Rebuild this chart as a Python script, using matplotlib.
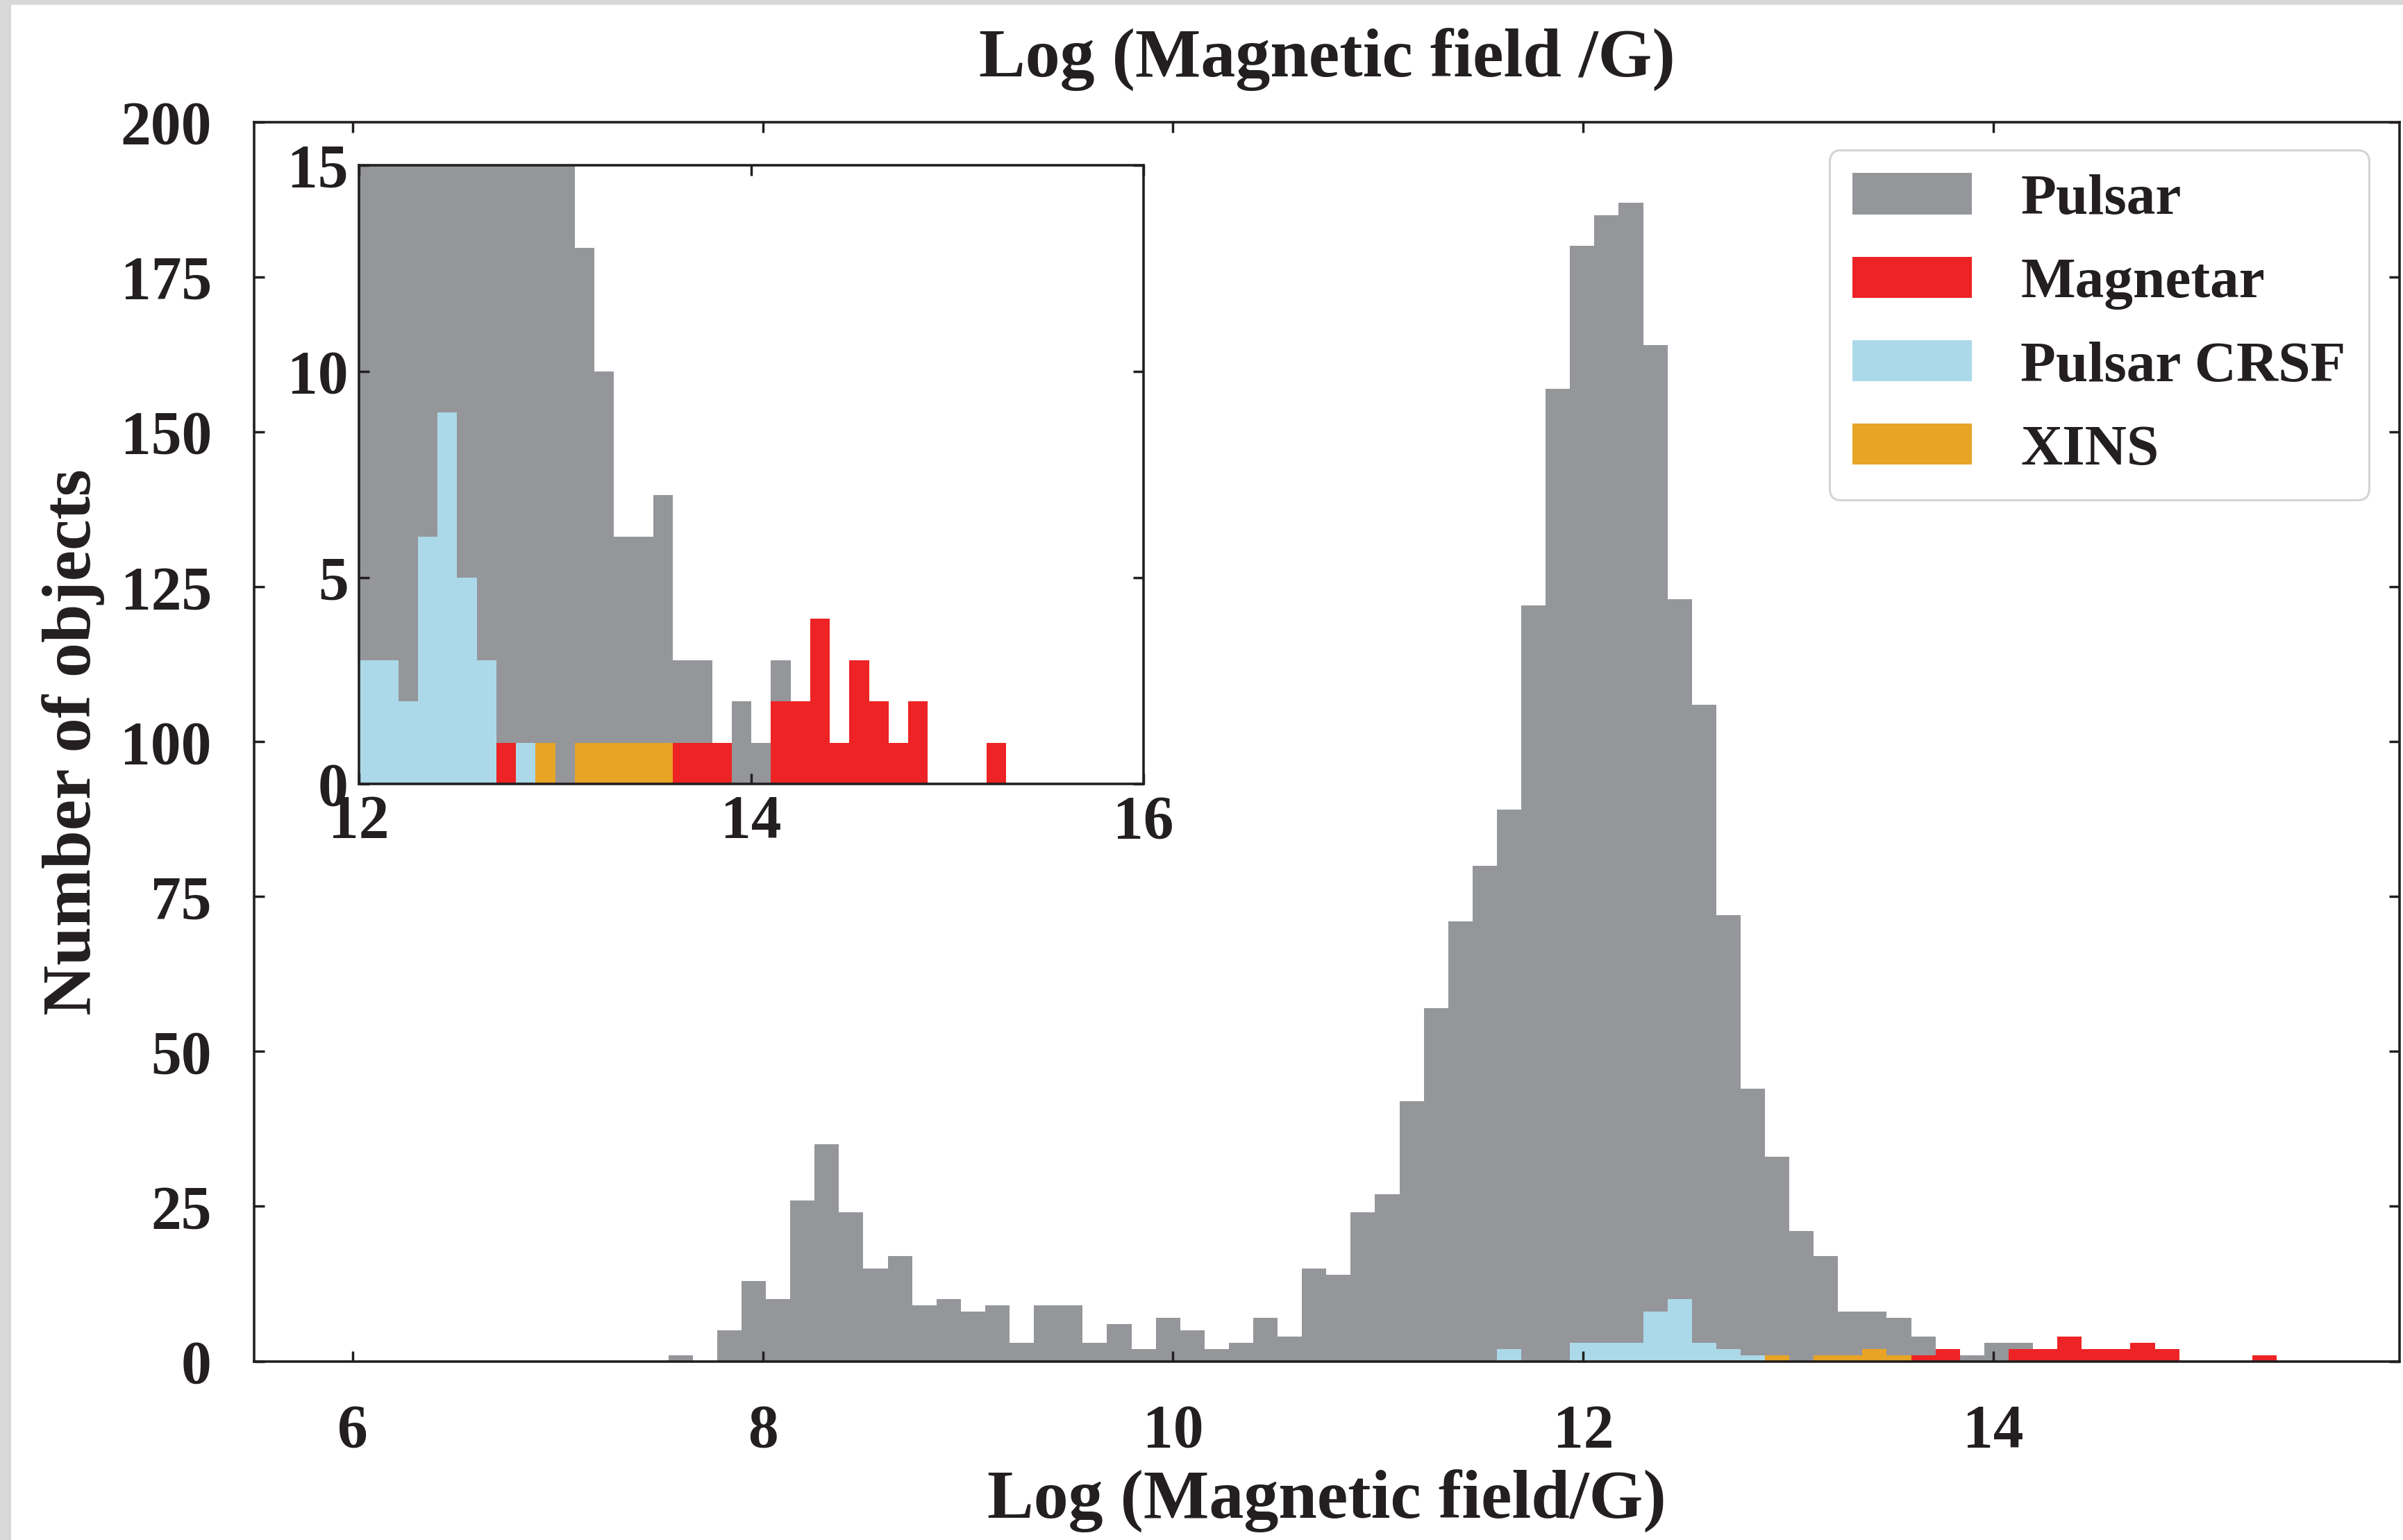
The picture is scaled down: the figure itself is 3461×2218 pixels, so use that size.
import numpy as np
import matplotlib
matplotlib.use("Agg")
import matplotlib.pyplot as plt
from matplotlib.patches import Rectangle

# ---------------- data (counts) ----------------
labels = ["Pulsar", "Magnetar", "Pulsar CRSF", "XINS"]

# main histogram: bins of width ~0.1188 starting at 7.54
main_bin_start = 7.54
main_bin_width = 0.1188
pulsar_main = [1, 0, 5, 13, 10, 26, 35, 24, 15, 17,
               9, 10, 8, 9, 3, 9, 9, 3, 6, 2,
               7, 5, 2, 3, 7, 4, 15, 14, 24, 27,
               42, 57, 71, 80, 89, 122, 157, 180, 185, 187,
               164, 123, 106, 72, 44, 33, 21, 17, 8, 8,
               7, 4, 2, 1, 3, 3, 0, 0, 0, 0,
               0, 0, 0, 0, 0, 0]
magnetar_main = [0] * 43 + [1, 0, 0, 0, 0, 0, 0, 0, 1, 2,
                            0, 0, 2, 2, 4, 2, 2, 3, 2, 0,
                            0, 0, 1]
crsf_main = [0] * 34 + [2, 0, 0, 3, 3, 3, 8, 10, 3, 2, 1] + [0] * 21
xins_main = [0] * 45 + [1, 0, 1, 1, 2, 1] + [0] * 15

# inset histogram: bins of width 0.1 starting at 12.0
inset_bin_start = 12.0
inset_bin_width = 0.1
pulsar_inset = [155, 157, 155, 138, 105, 90, 70, 45, 35, 27,
                18, 13, 10, 6, 6, 7, 3, 3, 1, 2,
                1, 3] + [0] * 18
magnetar_inset = [0, 0, 0, 0, 0, 0, 0, 1, 0, 0,
                  0, 0, 0, 0, 0, 0, 1, 1, 1, 0,
                  0, 2, 2, 4, 1, 3, 2, 1, 2, 0,
                  0, 0, 1] + [0] * 7
crsf_inset = [3, 3, 2, 6, 9, 5, 3, 0, 1] + [0] * 31
xins_inset = [0] * 9 + [1, 0, 1, 1, 1, 1, 1] + [0] * 24

main_yticks = [0, 25, 50, 75, 100, 125, 150, 175, 200]
main_xticks = [6, 8, 10, 12, 14]
inset_xticks = [12, 14, 16]
inset_yticks = [0, 5, 10, 15]

# ---------------- style ----------------
colors = ["#95969a", "#ee2325", "#abd9e9", "#e8a424"]
ink = "#231f20"
plt.rcParams["font.family"] = ["Liberation Serif", "DejaVu Serif"]
plt.rcParams["font.weight"] = "bold"
plt.rcParams["text.color"] = ink
plt.rcParams["axes.labelweight"] = "bold"
plt.rcParams["axes.titleweight"] = "bold"

W, H = 3461, 2218
fig = plt.figure(figsize=(W / 100, H / 100), dpi=100, facecolor="white")

# light gray screenshot border (left and top)
fig.patches.append(Rectangle((0, 0), 16 / W, 1, transform=fig.transFigure,
                             facecolor="#d8d8d8", edgecolor="none", zorder=0))
fig.patches.append(Rectangle((0, 1 - 7 / H), 1, 7 / H, transform=fig.transFigure,
                             facecolor="#d8d8d8", edgecolor="none", zorder=0))

ax = fig.add_axes([366 / W, 1 - 1960.5 / H, (3456 - 366) / W, (1960.5 - 176) / H])

main_edges = main_bin_start + main_bin_width * np.arange(len(pulsar_main) + 1)
for vals, lab, col in zip([pulsar_main, magnetar_main, crsf_main, xins_main], labels, colors):
    ax.hist(main_edges[:-1], bins=main_edges, weights=vals, histtype="stepfilled",
            color=col, linewidth=0, label=lab)

ax.set_xlim(5.52, 15.98)
ax.set_ylim(0, 200)
ax.set_xticks(main_xticks)
ax.set_yticks(main_yticks)
ax.tick_params(direction="in", top=True, right=True, length=10.8, width=2.5,
               labelsize=63, pad=44, color=ink, labelcolor=ink)
for sp in ax.spines.values():
    sp.set_linewidth(2.6)
    sp.set_color(ink)

ax.set_title("Log (Magnetic field /G)", fontsize=72, pad=47, color=ink)
ax.set_xlabel("Log (Magnetic field/G)", fontsize=72, color=ink)
ax.set_ylabel("Number of objects", fontsize=72, color=ink)
ax.xaxis.set_label_coords(0.5, -0.0877)
ax.yaxis.set_label_coords(-0.0695, 0.5)

leg = ax.legend(loc="upper right", bbox_to_anchor=(0.9858, 0.9775), borderaxespad=0,
                fontsize=60, frameon=True, fancybox=True, framealpha=1,
                edgecolor="#d4d4d4", handlelength=2.07, handleheight=0.72,
                handletextpad=0.84, labelspacing=0.52, borderpad=0.4)
leg.get_frame().set_linewidth(2.2)
for t in leg.get_texts():
    t.set_color(ink)

# ---------------- inset ----------------
axi = fig.add_axes([517 / W, 1 - 1129 / H, (1647 - 517) / W, (1129 - 238) / H])
inset_edges = inset_bin_start + inset_bin_width * np.arange(len(pulsar_inset) + 1)
for vals, col in zip([pulsar_inset, magnetar_inset, crsf_inset, xins_inset], colors):
    axi.hist(inset_edges[:-1], bins=inset_edges, weights=vals, histtype="stepfilled",
             color=col, linewidth=0)
axi.set_xlim(12, 16)
axi.set_ylim(0, 15)
axi.set_xticks(inset_xticks)
axi.set_yticks(inset_yticks)
axi.tick_params(direction="in", top=True, right=True, length=10.8, width=2.5,
                labelsize=63, pad=11, color=ink, labelcolor=ink)
for sp in axi.spines.values():
    sp.set_linewidth(2.6)
    sp.set_color(ink)

fig.savefig("out.png", dpi=100, facecolor=fig.get_facecolor())
